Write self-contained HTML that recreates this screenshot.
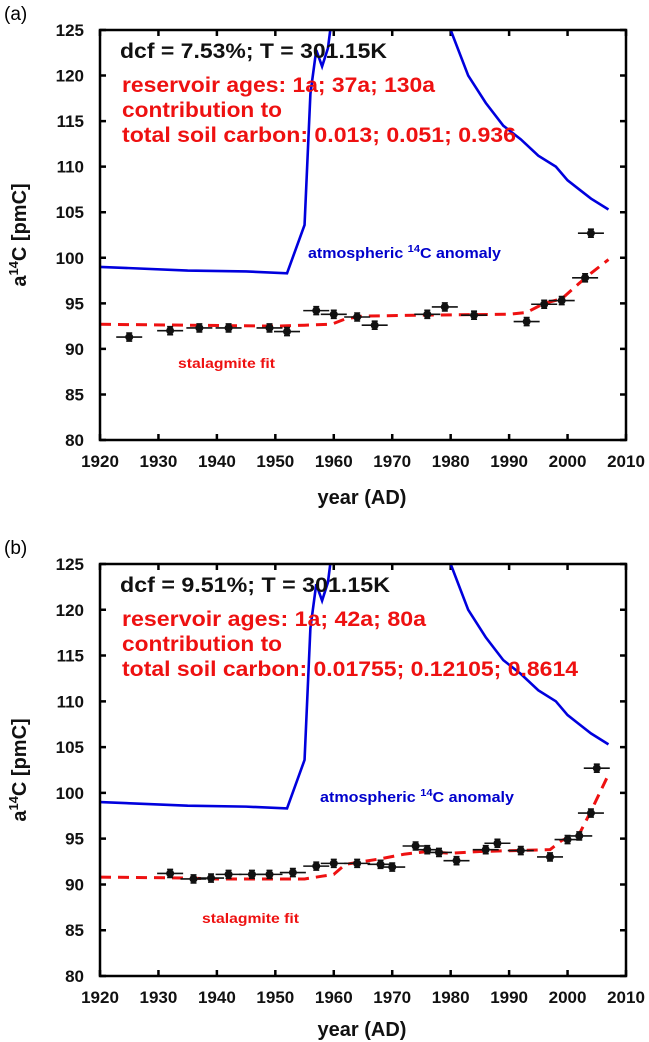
<!DOCTYPE html>
<html><head><meta charset="utf-8"><style>
html,body{margin:0;padding:0;background:#fff;}
svg{display:block;font-family:"Liberation Sans",Arial,sans-serif;}
</style></head><body>
<svg id="fig" width="649" height="1042" viewBox="0 0 649 1042"></svg>
<script>
// Panel (a) data
const yearsA = [1925,1932,1937,1942,1949,1952,1957,1960,1964,1967,1976,1979,1984,1993,1996,1999,2003,2004];
const valuesA = [91.3,92.0,92.3,92.3,92.3,91.9,94.2,93.8,93.5,92.6,93.8,94.6,93.7,93.0,94.9,95.3,97.8,102.7];
const fitYearsA = [1920,1935,1950,1955,1959,1960,1962,1965,1975,1990,1993,1996,1999,2002,2004,2007];
const fitValuesA = [92.7,92.6,92.5,92.6,92.7,92.8,93.3,93.6,93.7,93.8,94.0,95.0,95.5,97.2,98.3,99.8];
// Panel (b) data
const yearsB = [1932,1936,1939,1942,1946,1949,1953,1957,1960,1964,1968,1970,1974,1976,1978,1981,1986,1988,1992,1997,2000,2002,2004,2005];
const valuesB = [91.2,90.6,90.7,91.1,91.1,91.1,91.3,92.0,92.3,92.3,92.2,91.9,94.2,93.8,93.5,92.6,93.8,94.5,93.7,93.0,94.9,95.3,97.8,102.7];
const fitYearsB = [1920,1935,1940,1955,1958,1960,1962,1968,1972,1976,1980,1985,1997,1999,2002,2004,2007];
const fitValuesB = [90.8,90.7,90.6,90.6,90.9,91.1,92.2,92.8,93.3,93.6,93.4,93.6,93.8,94.8,95.5,98.0,102.0];
// Atmospheric 14C anomaly (shared)
const atmYears = [1920,1935,1945,1952,1955,1956,1957,1958,1959,1960,1980,1983,1986,1989,1992,1995,1998,2000,2002,2004,2007];
const atmValues = [99.0,98.6,98.5,98.3,103.6,118,122.8,121,123,128,125,120,117,114.5,113,111.2,110,108.5,107.5,106.5,105.3];
const xTicks = [1920,1930,1940,1950,1960,1970,1980,1990,2000,2010];
const yTicks = [80,85,90,95,100,105,110,115,120,125];

const NS='http://www.w3.org/2000/svg';
const svg=document.getElementById('fig');
function mk(tag,attrs,parent){const e=document.createElementNS(NS,tag);for(const k in attrs)e.setAttribute(k,attrs[k]);(parent||svg).appendChild(e);return e;}

function panel(id,top,bottom,label,years,values,fitYears,fitValues,txt,lens,atmPos,stalPos,xlabY){
  const L=100,R=626;
  const x=v=>L+(v-1920)/90*(R-L);
  const y=v=>bottom-(v-80)/45*(bottom-top);
  const g=mk('g',{});
  
  
  const pl=mk('text',{x:4,y:top-10,'font-size':19,fill:'#000'},g);pl.textContent=label;
  
  const cp=mk('clipPath',{id:'clip'+id},g);mk('rect',{x:L,y:top,width:R-L,height:bottom-top},cp);
  xTicks.forEach(t=>{
    const tk=mk('path',{d:`M${x(t)},${bottom}v-6M${x(t)},${top}v6`,stroke:'#000','stroke-width':2.5},g);
    
    const tl=mk('text',{x:x(t),y:bottom+27,'font-size':17,'font-weight':'bold','text-anchor':'middle',fill:'#111'},g);tl.textContent=t;
    
  });
  yTicks.forEach(t=>{
    const tk=mk('path',{d:`M${L},${y(t)}h6M${R},${y(t)}h-6`,stroke:'#000','stroke-width':2.5},g);
    
    const tl=mk('text',{x:84,y:y(t)+6,'font-size':17,'font-weight':'bold','text-anchor':'end',fill:'#111'},g);tl.textContent=t;
    
  });
  const atm=mk('polyline',{points:atmYears.map((a,i)=>x(a)+','+y(atmValues[i])).join(' '),fill:'none',stroke:'#0000dd','stroke-width':2.6,'clip-path':`url(#clip${id})`},g);
  
  const fit=mk('polyline',{points:fitYears.map((a,i)=>x(a)+','+y(fitValues[i])).join(' '),fill:'none',stroke:'#ee1111','stroke-width':3,'stroke-dasharray':'11,7','clip-path':`url(#clip${id})`},g);
  
  years.forEach((a,i)=>{
    const cx=x(a),cy=y(values[i]);
    const pg=mk('g',{},g);
    
    mk('path',{d:`M${cx-13},${cy}h26M${cx},${cy-4}v8M${cx-3},${cy-4}h6M${cx-3},${cy+4}h6`,stroke:'#111','stroke-width':1.6},pg);
    mk('circle',{cx:cx,cy:cy,r:4,fill:'#111'},pg);
  });
  const fr=mk('rect',{x:L,y:top,width:R-L,height:bottom-top,fill:'none',stroke:'#000','stroke-width':2.5},g);
  
  const t1=mk('text',{x:120,y:top+28,'font-size':21,'font-weight':'bold',fill:'#111',textLength:lens[0],lengthAdjust:'spacingAndGlyphs'},g);t1.textContent=txt[0];
  
  const rl=[txt[1],'contribution to',txt[2]];
  const offs=[62,87,112];
  rl.forEach((s,i)=>{
    const t=mk('text',{x:122,y:top+offs[i],'font-size':21,'font-weight':'bold',fill:'#ee1111',textLength:lens[i+1],lengthAdjust:'spacingAndGlyphs'},g);t.textContent=s;
    
  });
  const at=mk('text',{x:atmPos[0],y:atmPos[1],'font-size':14.5,'font-weight':'bold',fill:'#0000cc',textLength:atmPos[2],lengthAdjust:'spacingAndGlyphs'},g);
  at.innerHTML='atmospheric <tspan font-size="10" dy="-6">14</tspan><tspan dy="6">C anomaly</tspan>';
  
  const st=mk('text',{x:stalPos[0],y:stalPos[1],'font-size':14,'font-weight':'bold',fill:'#ee1111',textLength:97,lengthAdjust:'spacingAndGlyphs'},g);st.textContent='stalagmite fit';
  
  const xt=mk('text',{x:362,y:xlabY,'font-size':20,'font-weight':'bold','text-anchor':'middle',fill:'#111'},g);xt.textContent='year (AD)';
  
  const cy=(top+bottom)/2;
  const yt=mk('text',{x:0,y:0,'font-size':20,'font-weight':'bold','text-anchor':'middle',fill:'#111',transform:`translate(26,${cy}) rotate(-90)`},g);
  yt.innerHTML='a<tspan font-size="13" dy="-8">14</tspan><tspan dy="8">C [pmC]</tspan>';
  
}
panel('a',30,440,'(a)',yearsA,valuesA,fitYearsA,fitValuesA,
 ['dcf = 7.53%; T = 301.15K','reservoir ages: 1a; 37a; 130a','total soil carbon: 0.013; 0.051; 0.936'],
 [267,313,160,394],[308,258,193],[178,368],504);
panel('b',564,976,'(b)',yearsB,valuesB,fitYearsB,fitValuesB,
 ['dcf = 9.51%; T = 301.15K','reservoir ages: 1a; 42a; 80a','total soil carbon: 0.01755; 0.12105; 0.8614'],
 [270,304,160,456],[320,802,194],[202,923],1036);
</script>
</body></html>
